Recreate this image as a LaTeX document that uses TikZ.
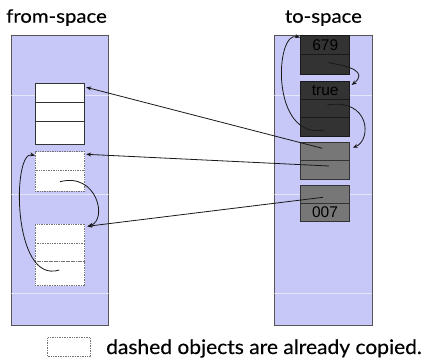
\documentclass[tikz,border=0pt]{standalone}
\usepackage{fontspec}
\setmainfont{Lato}[FakeBold=0.3]
\newfontfamily\numfont{Liberation Sans}
\usetikzlibrary{arrows.meta}
\definecolor{spaceblue}{HTML}{C8C8F8}
\definecolor{darkobj}{HTML}{333333}
\definecolor{grayobj}{HTML}{777777}
\definecolor{edgegray}{HTML}{555555}
\begin{document}
\begin{tikzpicture}[x=1pt,y=-1pt,
  space/.style={draw=edgegray, fill=spaceblue, line width=0.8pt, inner sep=0pt, outer sep=0pt, anchor=north west, minimum width=97.7pt, minimum height=290.7pt},
  cell/.style={draw, inner sep=0pt, outer sep=0pt, anchor=north west, line width=0.7pt, font=\numfont\fontsize{15.5}{15.5}\selectfont},
  solidcell/.style={cell, fill=white, draw=black!80, minimum width=49.7pt},
  dashcell/.style={cell, fill=white, draw=black!55, densely dotted, minimum width=49.7pt},
  darkcell/.style={cell, fill=darkobj, draw=black!90, minimum width=49pt},
  graycell/.style={cell, fill=grayobj, draw=black!80, minimum width=48.6pt},
  ptr/.style={-{Stealth[length=5pt,width=4pt]}, line width=0.8pt, draw=black!90},
  title/.style={font=\fontsize{18.5}{18.5}\selectfont, inner sep=0pt, anchor=base west},
  gridline/.style={draw=white, opacity=0.55, line width=0.6pt}
]
\useasboundingbox (0,0) rectangle (428,360);

% spaces
\node[space] (fromsp) at (11,35) {};
\node[space, minimum width=98.3pt] (tosp) at (274,35) {};
\foreach \yy in {95,194,293}{
  \draw[gridline] (fromsp.west |- 0,\yy) -- (fromsp.east |- 0,\yy);
  \draw[gridline] (tosp.west |- 0,\yy) -- (tosp.east |- 0,\yy);
}

\node[title] (fromt) at (6,22.7) {\scalebox{1.1}[1]{from-space}};
\node[title] (tot) at (284.7,22.7) {\scalebox{1.1}[1]{to-space}};

% from-space objects
\node[solidcell, minimum height=19.4pt] (a1) at (35,83.3) {};
\node[solidcell, minimum height=18.6pt] (a2) at (35,102.7) {};
\node[solidcell, minimum height=23pt] (a3) at (35,121.3) {};

\node[dashcell, minimum height=18.3pt] (b1) at (35,151.7) {};
\node[dashcell, minimum height=21pt] (b2) at (35,170) {};

\node[dashcell, minimum height=19pt] (c1) at (35,224.3) {};
\node[dashcell, minimum height=18.4pt] (c2) at (35,243.3) {};
\node[dashcell, minimum height=24pt] (c3) at (35,261.7) {};

% to-space objects
\node[darkcell, minimum height=18.6pt] (d1) at (300.7,35.7) {679};
\node[darkcell, minimum height=20pt] (d2) at (300.7,54.3) {};

\node[darkcell, minimum height=18.3pt] (e1) at (300.7,81) {true};
\node[darkcell, minimum height=18pt] (e2) at (300.7,99.3) {};
\node[darkcell, minimum height=18.7pt] (e3) at (300.7,117.3) {};

\node[graycell, minimum height=18pt] (f1) at (300.7,142) {};
\node[graycell, minimum height=19pt] (f2) at (300.7,160) {};

\node[graycell, minimum height=18.3pt] (g1) at (300.7,185) {};
\node[graycell, minimum height=18.4pt] (g2) at (300.7,203.3) {007};

% pointer origins
\coordinate (pf1) at (322.3,148.3);
\coordinate (pf2) at (329,166);
\coordinate (pg1) at (323,197.3);
\coordinate (pb2) at (60,181.7);
\coordinate (pc3) at (59.3,270);
\coordinate (pd2) at (328.3,62.7);
\coordinate (pe2) at (327.3,105);
\coordinate (pe3) at (324,130);

% straight pointers
\draw[ptr] (pf1) -- ([xshift=1.5pt,yshift=-4pt]a1.north east);
\draw[ptr] (pf2) -- ([xshift=1.5pt,yshift=-2.6pt]b1.north east);
\draw[ptr] (pg1) -- ([xshift=2.5pt,yshift=-2pt]c1.north east);

% curved pointers
\draw[ptr] (pb2) .. controls (97,172) and (108,220) .. ([xshift=3pt,yshift=-2pt]c1.north east);
\draw[ptr] (pc3) .. controls (12,285) and (12,150) .. ([yshift=-3.8pt]b1.north west);
\draw[ptr] (pd2) .. controls (350,66) and (368,72) .. ([xshift=2pt,yshift=-4pt]e1.north east);
\draw[ptr] (pe2) .. controls (370,98) and (372,140) .. ([xshift=3.5pt,yshift=-5.7pt]f1.north east);
\draw[ptr] (pe3) .. controls (270,140) and (275,30) .. ([xshift=-0.7pt,yshift=-1.8pt]d1.north west);

% legend
\node[dashcell, minimum width=43pt, minimum height=19pt] (legbox) at (47.7,337.7) {};
\node[title, font=\fontsize{20}{20}\selectfont] (legtext) at (106,354) {\scalebox{1.05}[1]{dashed objects are already copied.}};
\end{tikzpicture}
\end{document}
